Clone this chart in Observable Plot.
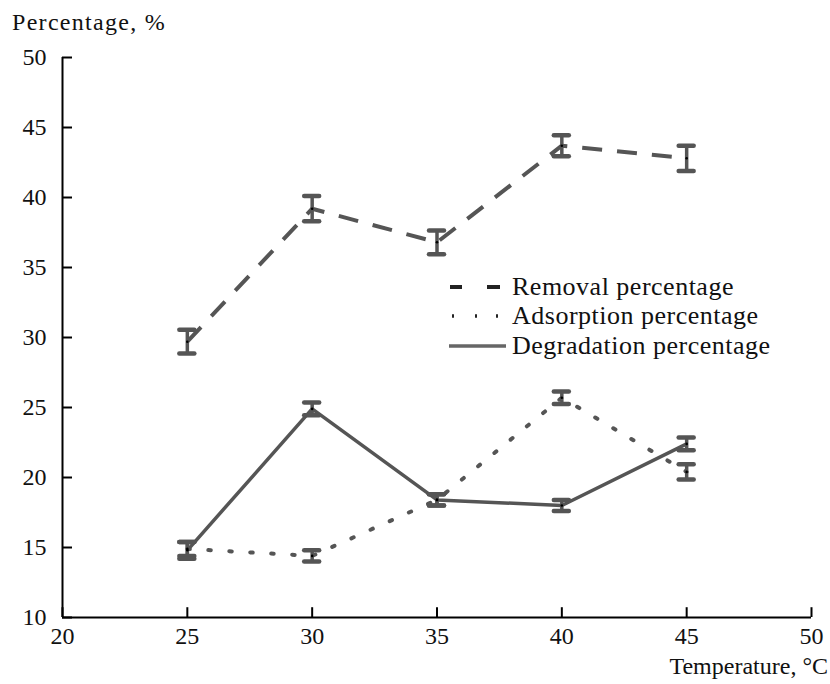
<!DOCTYPE html>
<html>
<head>
<meta charset="utf-8">
<script src="https://cdn.jsdelivr.net/npm/d3@7"></script>
<script src="https://cdn.jsdelivr.net/npm/@observablehq/plot@0.6"></script>
<style>
  html, body { margin: 0; padding: 0; background: #fff; }
  #wrap { position: relative; width: 830px; height: 684px; font-family: "Liberation Serif", "Times New Roman", Times, "DejaVu Serif", "Noto Serif", serif; color: #111; }
  .lab { position: absolute; font-size: 24px; white-space: nowrap; line-height: 1; }
  .leg { position: absolute; left: 448px; top: 272px; font-size: 26px; letter-spacing: 0.5px; }
  .row { display: flex; align-items: center; height: 29.5px; }
  .row svg { width: 62px; height: 12px; margin-right: 2px; }
</style>
</head>
<body>
<div id="wrap">
  <div id="chart"></div>
  <div class="lab" style="left:12px; top:10px; letter-spacing:1.3px;">Percentage, %</div>
  <div class="lab" style="right:2px; top:654px;">Temperature, °C</div>
  <div class="leg">
    <div class="row"><svg><line x1="2" x2="14" y1="6" y2="6" stroke="#222" stroke-width="4"/><line x1="39" x2="52" y1="6" y2="6" stroke="#222" stroke-width="4"/></svg><span>Removal percentage</span></div>
    <div class="row"><svg><line x1="4" x2="6" y1="6" y2="6" stroke="#222" stroke-width="3.5"/><line x1="27" x2="29" y1="6" y2="6" stroke="#222" stroke-width="3.5"/><line x1="48" x2="50" y1="6" y2="6" stroke="#222" stroke-width="3.5"/></svg><span>Adsorption percentage</span></div>
    <div class="row"><svg><line x1="1" x2="58" y1="6" y2="6" stroke="#666" stroke-width="3.5"/></svg><span>Degradation percentage</span></div>
  </div>
</div>
<script>
// ---- data ----
const temps = [25, 30, 35, 40, 45];
const removal = [29.7, 39.2, 36.8, 43.7, 42.8];
const removalErr = [0.85, 0.9, 0.85, 0.75, 0.9];
const adsorption = [14.9, 14.4, 18.4, 25.7, 20.4];
const adsorptionErr = [0.5, 0.4, 0.4, 0.45, 0.55];
const degradation = [14.8, 24.9, 18.4, 18.0, 22.4];
const degradationErr = [0.6, 0.45, 0.4, 0.4, 0.45];
const xTicks = [20, 25, 30, 35, 40, 45, 50];
const yTicks = [10, 15, 20, 25, 30, 35, 40, 45, 50];

const series = [
  {name: "Removal", vals: removal, errs: removalErr, dash: "20,15", cap: "butt", w: 4},
  {name: "Adsorption", vals: adsorption, errs: adsorptionErr, dash: "2.5,18.5", cap: "round", w: 4},
  {name: "Degradation", vals: degradation, errs: degradationErr, dash: null, cap: "butt", w: 3.5}
];
const rows = series.flatMap(s => temps.map((t, i) => ({s: s.name, t, v: s.vals[i], e: s.errs[i]})));
const caps = rows.flatMap(r => [{t: r.t, y: r.v - r.e}, {t: r.t, y: r.v + r.e}]);
const capHalf = 0.3;

const lineMarks = series.map(s => Plot.line(temps.map((t, i) => ({t, v: s.vals[i]})), {
  x: "t", y: "v", stroke: "#555", strokeWidth: s.w,
  strokeDasharray: s.dash, strokeLinecap: s.cap, strokeLinejoin: "round"
}));

const FONT = "'Liberation Serif', 'Times New Roman', Times, 'DejaVu Serif', 'Noto Serif', serif";

const chart = Plot.plot({
  width: 830, height: 684,
  marginLeft: 62, marginRight: 19, marginTop: 57, marginBottom: 67,
  x: {domain: [20, 50]},
  y: {domain: [10, 50]},
  style: {fontFamily: FONT, fontSize: "24px", color: "#111", background: "#fff"},
  marks: [
    Plot.axisX(xTicks, {tickSize: 0, tickPadding: 9, fontSize: 24, fontFamily: FONT, label: null}),
    Plot.axisY(yTicks, {tickSize: 0, tickPadding: 16, fontSize: 24, fontFamily: FONT, label: null}),
    ...lineMarks,
    Plot.ruleX(rows, {x: "t", y1: d => d.v - d.e, y2: d => d.v + d.e, stroke: "#555", strokeWidth: 3.5}),
    Plot.ruleY(caps, {y: "y", x1: d => d.t - capHalf, x2: d => d.t + capHalf, stroke: "#555", strokeWidth: 4.5, strokeLinecap: "round"}),
    Plot.dot(rows, {x: "t", y: "v", r: 1.3, fill: "#000"}),
    Plot.ruleX([20], {stroke: "#000", strokeWidth: 2}),
    Plot.ruleY([10], {stroke: "#000", strokeWidth: 2}),
    Plot.ruleY(yTicks, {y: d => d, x1: 20, x2: 20.4, stroke: "#000", strokeWidth: 2}),
    Plot.ruleX(xTicks, {x: d => d, y1: 10, y2: 10.7, stroke: "#000", strokeWidth: 2})
  ]
});
document.getElementById("chart").appendChild(chart);
</script>
</body>
</html>
